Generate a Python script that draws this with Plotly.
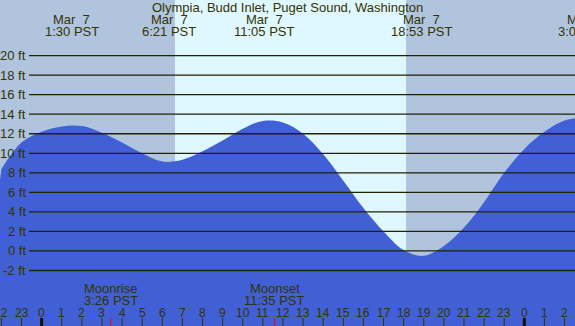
import plotly.graph_objects as go

# ---- data ----
hours = list(range(-2, 28))
tide_ft = [8.4, 11.1, 12.2, 12.75, 12.8, 12.1, 11.1, 10.0, 9.15, 9.35,
           10.2, 11.3, 12.5, 13.3, 13.15, 12.0, 9.9, 7.2, 4.4, 2.0,
           0.1, -0.5, 0.5, 2.4, 5.0, 8.0, 10.45, 12.2, 13.35, 13.7]

extreme_hours = [1.5, 6.35, 11.083, 18.883, 27.03]
extreme_dates = ["Mar  7", "Mar  7", "Mar  7", "Mar  7", "Mar  8"]
extreme_times = ["1:30 PST", "6:21 PST", "11:05 PST", "18:53 PST", "3:02 PST"]

sunrise_h = 6.63
sunset_h = 18.12

moon_event_hours = [3.433, 11.583]
moon_event_names = ["Moonrise", "Moonset"]
moon_event_times = ["3:26 PST", "11:35 PST"]

y_ticks = [20, 18, 16, 14, 12, 10, 8, 6, 4, 2, 0, -2]
y_tick_labels = ["20 ft", "18 ft", "16 ft", "14 ft", "12 ft", "10 ft", "8 ft",
                 "6 ft", "4 ft", "2 ft", "0 ft", "-2 ft"]

hour_ticks = list(range(-2, 27))
hour_tick_labels = [str(h % 24) for h in hour_ticks]

title = "Olympia, Budd Inlet, Puget Sound, Washington"

# ---- styling ----
W, H = 575, 326
X_RANGE = [-2.07, 26.52]
Y_RANGE = [-7.68, 25.69]
NIGHT = "#B0C4DE"
DAY = "#DFF7FF"
WATER = "rgb(65,96,214)"
TXT = "#333300"
GRID = "#222200"
FONT = "Liberation Sans, Arial, sans-serif"


def x_to_paper(h):
    # position along the x axis, for labels that lie partly past the axis range
    return (h - X_RANGE[0]) / (X_RANGE[1] - X_RANGE[0])


fig = go.Figure()
fig.add_trace(go.Scatter(x=[X_RANGE[0] - 1, X_RANGE[1] + 1], y=[Y_RANGE[0] - 1] * 2,
                         mode="lines", line=dict(width=0), hoverinfo="skip",
                         showlegend=False))
fig.add_trace(go.Scatter(x=hours, y=tide_ft, mode="lines",
                         line=dict(width=0, shape="spline", smoothing=1.0),
                         fill="tonexty", fillcolor=WATER, hoverinfo="skip",
                         showlegend=False))

shapes = []
# daylight
shapes.append(dict(type="rect", xref="x", yref="paper", x0=sunrise_h, x1=sunset_h,
                   y0=0, y1=1, fillcolor=DAY, line=dict(width=0), layer="below"))
# horizontal level lines
for v in y_ticks:
    shapes.append(dict(type="line", xref="paper", yref="y", x0=29 / W, x1=1,
                       y0=v, y1=v, line=dict(color=GRID, width=1.3)))
# hour ticks
for h in hour_ticks:
    shapes.append(dict(type="line", xref="x", yref="paper", x0=h, x1=h,
                       y0=0, y1=8 / H,
                       line=dict(color="#111100" if h % 24 == 0 else "#333300",
                                 width=3 if h % 24 == 0 else 1)))
for h in moon_event_hours:
    shapes.append(dict(type="line", xref="x", yref="paper", x0=h, x1=h,
                       y0=0, y1=8 / H, line=dict(color="red", width=1)))

ann = []
fnt = dict(family=FONT, size=13, color=TXT)
ann.append(dict(text=title, xref="paper", yref="paper", x=0.5, y=1 - 7.5 / H,
                showarrow=False, font=fnt, xanchor="center", yanchor="middle"))
for h, d, t in zip(extreme_hours, extreme_dates, extreme_times):
    ann.append(dict(text=d, xref="paper", yref="paper", x=x_to_paper(h), y=1 - 19.5 / H,
                    showarrow=False, font=fnt, xanchor="center", yanchor="middle"))
    ann.append(dict(text=t, xref="paper", yref="paper", x=x_to_paper(h), y=1 - 31.5 / H,
                    showarrow=False, font=fnt, xanchor="center", yanchor="middle"))
for v, lab in zip(y_ticks, y_tick_labels):
    ann.append(dict(text=lab, xref="paper", yref="y", x=27.5 / W, y=v,
                    showarrow=False, font=fnt, xanchor="right", yanchor="middle"))
for h, n, t in zip(moon_event_hours, moon_event_names, moon_event_times):
    ann.append(dict(text=n, xref="x", yref="paper", x=h, y=1 - 288 / H,
                    showarrow=False, font=fnt, xanchor="center", yanchor="middle"))
    ann.append(dict(text=t, xref="x", yref="paper", x=h, y=1 - 300 / H,
                    showarrow=False, font=fnt, xanchor="center", yanchor="middle"))
for h, lab in zip(hour_ticks, hour_tick_labels):
    ann.append(dict(text=lab, xref="x", yref="paper", x=h, y=1 - 312.5 / H,
                    showarrow=False, font=dict(family=FONT, size=12, color=TXT),
                    xanchor="center", yanchor="middle"))

fig.update_layout(
    width=W, height=H, autosize=False,
    margin=dict(l=0, r=0, t=0, b=0),
    paper_bgcolor=NIGHT, plot_bgcolor=NIGHT,
    xaxis=dict(range=X_RANGE, visible=False, fixedrange=True),
    yaxis=dict(range=Y_RANGE, visible=False, fixedrange=True),
    shapes=shapes, annotations=ann, showlegend=False,
)
fig.write_html(
    "out.html",
    config={"displayModeBar": False},
    post_script="document.body.style.margin='0';document.body.style.padding='0';"
                "document.body.style.overflow='hidden';",
)
